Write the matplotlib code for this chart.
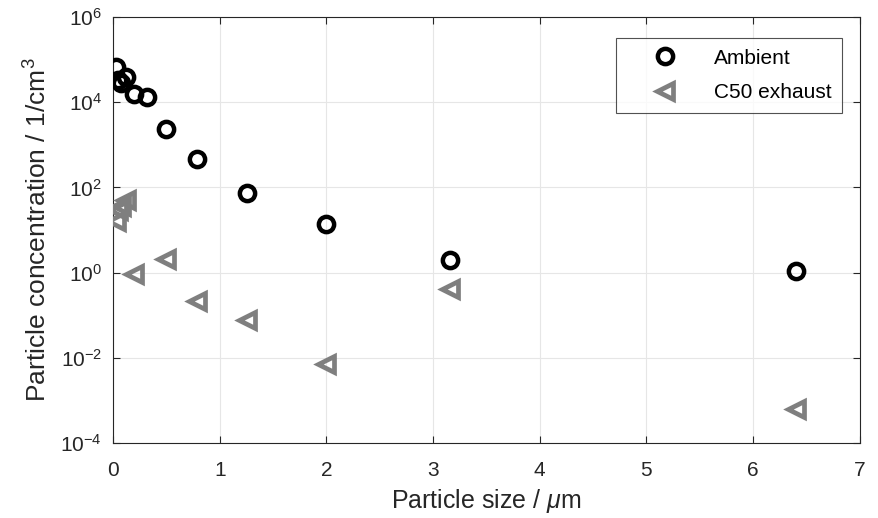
import matplotlib
matplotlib.use("Agg")
import matplotlib.pyplot as plt

plt.rcParams["font.family"] = ["Liberation Sans", "DejaVu Sans"]
plt.rcParams["mathtext.fontset"] = "custom"
plt.rcParams["mathtext.rm"] = "Liberation Sans"
plt.rcParams["mathtext.it"] = "Liberation Sans:italic"

# particle sizes (um) and concentrations (1/cm^3)
ambient_size = [0.032, 0.05, 0.079, 0.126, 0.2, 0.316, 0.5, 0.79, 1.26, 2.0, 3.16, 6.4]
ambient_conc = [6.6e4, 3.3e4, 2.8e4, 3.9e4, 1.6e4, 1.3e4, 2.4e3, 4.6e2, 72, 14, 2.0, 1.1]

exhaust_size = [0.032, 0.05, 0.079, 0.126, 0.2, 0.5, 0.79, 1.26, 2.0, 3.16, 6.4]
exhaust_conc = [16, 30, 36, 50, 0.95, 2.1, 0.22, 0.079, 0.007, 0.42, 6.3e-4]

x_ticks = [0, 1, 2, 3, 4, 5, 6, 7]
y_ticks = [1e-4, 1e-2, 1e0, 1e2, 1e4, 1e6]

fig = plt.figure(figsize=(8.79, 5.18), dpi=100)
ax = fig.add_axes([0.1286, 0.145, 0.8494, 0.822])

ax.plot(ambient_size, ambient_conc, linestyle="none", marker="o", markersize=11,
        markerfacecolor="none", markeredgecolor="black", markeredgewidth=3.2,
        label="Ambient", zorder=3)
ax.plot(exhaust_size, exhaust_conc, linestyle="none", marker="<", markersize=12,
        markerfacecolor="none", markeredgecolor="#7f7f7f", markeredgewidth=3.4,
        label="C50 exhaust", zorder=3)

ax.set_yscale("log")
ax.set_xlim(0, 7)
ax.set_ylim(1e-4, 1e6)
ax.set_xticks(x_ticks)
ax.set_yticks(y_ticks)
ax.minorticks_off()
ax.grid(True, color="#e6e6e6", linewidth=0.8)
ax.set_axisbelow(True)

for s in ax.spines.values():
    s.set_color("#262626")
    s.set_linewidth(0.8)
ax.tick_params(direction="in", length=5, colors="#262626", labelsize=15,
               top=True, right=True)
ax.tick_params(axis="x", pad=13)
ax.tick_params(axis="y", pad=8)

ax.set_xlabel(r"Particle size / $\mu$m", fontsize=18, color="#262626", labelpad=5)
ax.set_ylabel(r"Particle concentration / 1/cm$^3$", fontsize=19, color="#262626",
              labelpad=6)

leg = ax.legend(loc="upper right", bbox_to_anchor=(0.99, 0.975), fontsize=15,
                frameon=True, fancybox=False, edgecolor="#262626",
                borderpad=0.5, handletextpad=0.45, labelspacing=0.75,
                handlelength=3.75)
leg.get_frame().set_linewidth(0.8)

fig.savefig("out.png", dpi=100)
